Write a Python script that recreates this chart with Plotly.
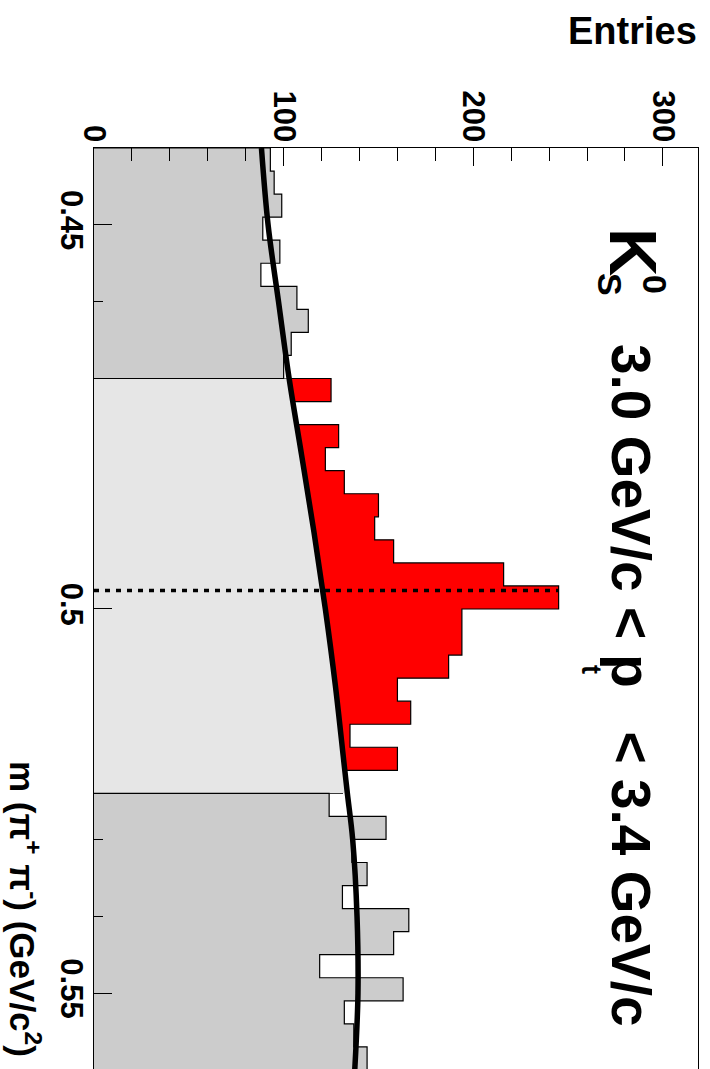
import numpy as np
import plotly.graph_objects as go

# --- invariant-mass histogram: 40 bins of 3 MeV from 0.44 to 0.56 GeV/c^2 ---
bin_low = 0.44
bin_width = 0.003
counts = [93, 95, 99, 89, 98, 88, 107, 113, 104, 100,
          125, 101, 129, 122, 132, 150, 148, 158, 216, 245,
          194, 194, 187, 160, 167, 135, 160, 131,
          124, 154, 136, 144, 131, 166, 158, 119, 163, 132, 137, 144]

# signal window (red) between the two side bands
signal_window = (0.47, 0.524)
k0s_mass = 0.4976

# background fit, sampled along the drawn curve
fit_mass = [0.44, 0.45, 0.46, 0.47, 0.48, 0.49, 0.50, 0.51, 0.52, 0.524,
            0.53, 0.54, 0.55, 0.56]
fit_entries = [88.3, 91.8, 97.3, 102.9, 109.5, 116.0, 122.0, 127.3, 131.8,
               133.6, 136.4, 138.7, 139.2, 137.5]

entries_ticks = [0, 100, 200, 300]
mass_ticks = [0.45, 0.50, 0.55]
mass_tick_text = ["0.45", "0.5", "0.55"]
mass_minor = [0.46, 0.47, 0.53, 0.54]

# --- canvas geometry (pixels) ---
W, H = 710, 1069
L, R, T, B = 94, 12, 148, 0
PW, PH = W - L - R, H - T - B
FONT = "Liberation Sans"

edges = bin_low + bin_width * np.arange(len(counts) + 1)
i_sig_lo = int(round((signal_window[0] - bin_low) / bin_width))
i_sig_hi = int(round((signal_window[1] - bin_low) / bin_width))


def step_outline(lo, hi):
    xs = [0] + counts[lo:hi] + [counts[hi - 1], 0]
    ys = [edges[lo]] + list(edges[lo:hi]) + [edges[hi], edges[hi]]
    return xs, ys


def px(xp, yp):
    return (xp - L) / PW, (H - B - yp) / PH


fig = go.Figure()

# signal region histogram (red)
xs, ys = step_outline(i_sig_lo, i_sig_hi)
fig.add_trace(go.Scatter(x=xs, y=ys, mode="lines", line=dict(shape="vh", color="black", width=1.2),
                         fill="tozerox", fillcolor="#ff0000", hoverinfo="skip"))

# background under the fit inside the signal window
sel = [i for i, m in enumerate(fit_mass) if signal_window[0] - 1e-9 <= m <= signal_window[1] + 1e-9]
fig.add_trace(go.Scatter(x=[fit_entries[i] for i in sel], y=[fit_mass[i] for i in sel],
                         mode="lines", line=dict(shape="spline", width=0, color="#e6e6e6"),
                         fill="tozerox", fillcolor="#e6e6e6", hoverinfo="skip"))

# side bands (grey)
for lo, hi in [(0, i_sig_lo), (i_sig_hi, len(counts))]:
    xs, ys = step_outline(lo, hi)
    fig.add_trace(go.Scatter(x=xs, y=ys, mode="lines", line=dict(shape="vh", color="black", width=1.2),
                             fill="tozerox", fillcolor="#cccccc", hoverinfo="skip"))

# fit curve
fig.add_trace(go.Scatter(x=fit_entries, y=fit_mass, mode="lines",
                         line=dict(shape="spline", color="black", width=5.5), hoverinfo="skip"))

# nominal K0s mass marker
fig.add_shape(type="line", x0=0, x1=max(counts), y0=k0s_mass, y1=k0s_mass, xref="x", yref="y",
              line=dict(color="black", width=3.5, dash="5px,6px"), layer="above")

fig.update_xaxes(side="top", range=[0, 318.5], tickmode="array", tickvals=entries_ticks,
                 ticktext=[str(v) for v in entries_ticks], tickangle=90, ticks="inside",
                 ticklen=18, tickwidth=1, tickcolor="black", showline=True, linecolor="black",
                 linewidth=1, showgrid=False, zeroline=False, ticklabelstandoff=-6,
                 tickfont=dict(family=FONT, size=31, color="black", weight="bold"),
                 minor=dict(tickmode="linear", tick0=0, dtick=20, ticks="inside", ticklen=13,
                            tickcolor="black", tickwidth=1, showgrid=False))
fig.update_yaxes(range=[bin_low + PH / 7683.0, bin_low], tickmode="array", tickvals=mass_ticks,
                 ticktext=mass_tick_text, tickangle=90, ticks="inside", ticklen=18, tickwidth=1,
                 tickcolor="black", showline=True, mirror=True, linecolor="black", linewidth=1,
                 showgrid=False, zeroline=False, ticklabelstandoff=-5,
                 tickfont=dict(family=FONT, size=31, color="black", weight="bold"),
                 minor=dict(tickmode="array", tickvals=mass_minor, ticks="inside", ticklen=9,
                            tickcolor="black", tickwidth=1, showgrid=False))

bold = dict(family=FONT, color="black", weight="bold")
ann = []
x, y = px(699, 31)
ann.append(dict(text="Entries", x=x, y=y, xanchor="right", yanchor="middle", font=dict(size=38, **bold)))
x, y = px(634, 252)
ann.append(dict(text="K", x=x, y=y, xanchor="center", yanchor="middle", textangle=90, font=dict(size=67, **bold)))
x, y = px(610, 284)
ann.append(dict(text="S", x=x, y=y, xanchor="center", yanchor="middle", textangle=90, font=dict(size=34, **bold)))
x, y = px(655, 284)
ann.append(dict(text="0", x=x, y=y, xanchor="center", yanchor="middle", textangle=90, font=dict(size=34, **bold)))
# p_t range label, set in three pieces so the subscript sits low like ROOT's TLatex
x, y = px(631, 342)
ann.append(dict(text="3.0 GeV/c < p", x=x, y=y, xanchor="center", yanchor="top",
                textangle=90, font=dict(size=55, **bold)))
x, y = px(591, 669)
ann.append(dict(text="t", x=x, y=y, xanchor="center", yanchor="middle", textangle=90,
                font=dict(size=27, **bold)))
x, y = px(631, 1028)
ann.append(dict(text="< 3.4 GeV/c", x=x, y=y, xanchor="center", yanchor="bottom",
                textangle=90, font=dict(size=55, **bold)))
x, y = px(1, 909)
ann.append(dict(text="m (\u03c0<sup>+</sup> \u03c0<sup>-</sup>) (GeV/c<sup>2</sup>)", x=x, y=y,
                xanchor="left", yanchor="middle", textangle=90, font=dict(size=35, **bold)))
for a in ann:
    a.update(xref="paper", yref="paper", showarrow=False)

fig.update_layout(width=W, height=H, margin=dict(l=L, r=R, t=T, b=B, pad=0),
                  paper_bgcolor="white", plot_bgcolor="white", showlegend=False,
                  annotations=ann)

fig.write_html("out.html")
